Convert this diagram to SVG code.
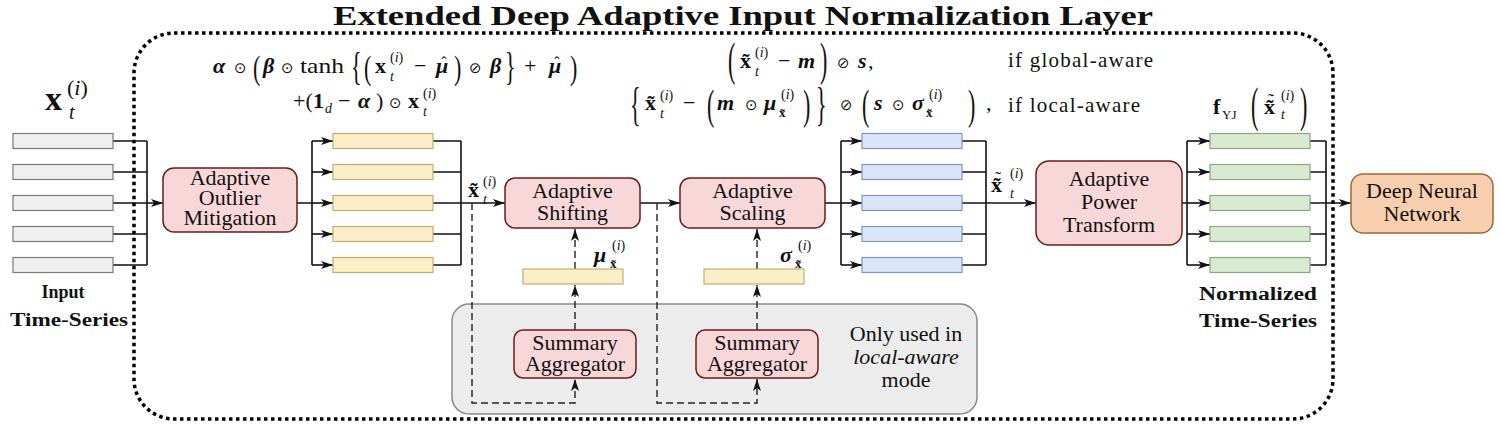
<svg xmlns="http://www.w3.org/2000/svg" width="1500" height="427" viewBox="0 0 1500 427">
<style>
.t{font-family:"Liberation Serif","DejaVu Serif",serif;fill:#111}
.lbl{font-size:22px;text-anchor:middle}
.b{font-weight:bold}
.bi{font-weight:bold;font-style:italic}
.it{font-style:italic}
.op{font-family:"DejaVu Sans",sans-serif;font-size:15px;fill:#111}
.ln{stroke:#111;stroke-width:1.6;fill:none}
.dash{stroke:#222;stroke-width:1.4;stroke-dasharray:7 4;fill:none}
.red{fill:#f8d7d8;stroke:#6e1a1a;stroke-width:1.5}
.gray{fill:#efefef;stroke:#7a7a7a;stroke-width:1.2}
.yel{fill:#fcefc7;stroke:#c2ad74;stroke-width:1.2}
.blue{fill:#dae6f8;stroke:#7f97c0;stroke-width:1.2}
.grn{fill:#d9ead3;stroke:#8aa77f;stroke-width:1.2}
</style>
<defs>
<marker id="arr" viewBox="0 0 12 8" refX="12" refY="4" markerWidth="12" markerHeight="8" markerUnits="userSpaceOnUse" orient="auto">
<path d="M0,0 L12,4 L0,8 L3,4 z" fill="#111"/>
</marker>
</defs>
<rect width="1500" height="427" fill="#fff"/>

<!-- title and frame -->
<text class="t b" x="743" y="25" font-size="28" text-anchor="middle" textLength="820" lengthAdjust="spacingAndGlyphs">Extended Deep Adaptive Input Normalization Layer</text>
<rect id="frame" x="134" y="33" width="1199" height="386" rx="40" fill="none" stroke="#000" stroke-width="3.5" stroke-dasharray="3.5 3.5"/>

<!-- gray local-aware region -->
<g id="local-region">
<rect x="452" y="304" width="525" height="110" rx="17" fill="#ececec" stroke="#8a8a8a" stroke-width="1.5"/>
<text class="t lbl" x="906" y="341">Only used in</text>
<text class="t lbl it" x="906" y="364">local-aware</text>
<text class="t lbl" x="906" y="387">mode</text>
</g>

<!-- connectors -->
<g id="connectors">
<path class="ln" d="M113,141 H147 M113,172 H147 M113,234 H147 M113,265 H147 M147,141 V265"/>
<path class="ln" d="M113,203 H163" marker-end="url(#arr)"/>
<path class="ln" d="M297,203 H312 M312,141 V265"/>
<path class="ln" d="M312,141 H333" marker-end="url(#arr)"/>
<path class="ln" d="M312,172 H333" marker-end="url(#arr)"/>
<path class="ln" d="M312,203 H333" marker-end="url(#arr)"/>
<path class="ln" d="M312,234 H333" marker-end="url(#arr)"/>
<path class="ln" d="M312,265 H333" marker-end="url(#arr)"/>
<path class="ln" d="M433,141 H461 M433,172 H461 M433,234 H461 M433,265 H461 M461,141 V265"/>
<path class="ln" d="M433,203 H505" marker-end="url(#arr)"/>
<path class="ln" d="M640,203 H680" marker-end="url(#arr)"/>
<path class="ln" d="M825,203 H841 M841,141 V265"/>
<path class="ln" d="M841,141 H862" marker-end="url(#arr)"/>
<path class="ln" d="M841,172 H862" marker-end="url(#arr)"/>
<path class="ln" d="M841,203 H862" marker-end="url(#arr)"/>
<path class="ln" d="M841,234 H862" marker-end="url(#arr)"/>
<path class="ln" d="M841,265 H862" marker-end="url(#arr)"/>
<path class="ln" d="M962,141 H986 M962,172 H986 M962,234 H986 M962,265 H986 M986,141 V265"/>
<path class="ln" d="M962,203 H1036" marker-end="url(#arr)"/>
<path class="ln" d="M1182,203 H1187 M1187,141 V265"/>
<path class="ln" d="M1187,141 H1210" marker-end="url(#arr)"/>
<path class="ln" d="M1187,172 H1210" marker-end="url(#arr)"/>
<path class="ln" d="M1187,203 H1210" marker-end="url(#arr)"/>
<path class="ln" d="M1187,234 H1210" marker-end="url(#arr)"/>
<path class="ln" d="M1187,265 H1210" marker-end="url(#arr)"/>
<path class="ln" d="M1310,141 H1326 M1310,172 H1326 M1310,234 H1326 M1310,265 H1326 M1326,141 V265"/>
<path class="ln" d="M1310,203 H1351" marker-end="url(#arr)"/>
<path class="dash" d="M472,203 V403 H575 V379" marker-end="url(#arr)"/>
<path class="dash" d="M657,203 V403 H757 V379" marker-end="url(#arr)"/>
<path class="dash" d="M575,330 V285" marker-end="url(#arr)"/>
<path class="dash" d="M575,269 V229" marker-end="url(#arr)"/>
<path class="dash" d="M757,330 V285" marker-end="url(#arr)"/>
<path class="dash" d="M757,269 V229" marker-end="url(#arr)"/>
</g>

<!-- series bars -->
<g id="input-series">
<rect class="gray" x="13" y="133.5" width="100" height="15"/>
<rect class="gray" x="13" y="164.5" width="100" height="15"/>
<rect class="gray" x="13" y="195.5" width="100" height="15"/>
<rect class="gray" x="13" y="226.5" width="100" height="15"/>
<rect class="gray" x="13" y="257.5" width="100" height="15"/>
<text class="t b" x="63" y="298" font-size="18" text-anchor="middle">Input</text>
<text class="t b" x="69" y="326" font-size="18" text-anchor="middle" textLength="118" lengthAdjust="spacingAndGlyphs">Time-Series</text>
<text class="t b" x="45" y="110" font-size="34">x</text>
<text class="t" x="67" y="95" font-size="22">(<tspan class="it">i</tspan>)</text>
<text class="t it" x="69" y="119" font-size="20">t</text>
</g>
<g id="mitigated-series">
<rect class="yel" x="333" y="133.5" width="100" height="15"/>
<rect class="yel" x="333" y="164.5" width="100" height="15"/>
<rect class="yel" x="333" y="195.5" width="100" height="15"/>
<rect class="yel" x="333" y="226.5" width="100" height="15"/>
<rect class="yel" x="333" y="257.5" width="100" height="15"/>
</g>
<g id="scaled-series">
<rect class="blue" x="862" y="133.5" width="100" height="15"/>
<rect class="blue" x="862" y="164.5" width="100" height="15"/>
<rect class="blue" x="862" y="195.5" width="100" height="15"/>
<rect class="blue" x="862" y="226.5" width="100" height="15"/>
<rect class="blue" x="862" y="257.5" width="100" height="15"/>
</g>
<g id="normalized-series">
<rect class="grn" x="1210" y="133.5" width="100" height="15"/>
<rect class="grn" x="1210" y="164.5" width="100" height="15"/>
<rect class="grn" x="1210" y="195.5" width="100" height="15"/>
<rect class="grn" x="1210" y="226.5" width="100" height="15"/>
<rect class="grn" x="1210" y="257.5" width="100" height="15"/>
<text class="t b" x="1258" y="300" font-size="18" text-anchor="middle" textLength="118" lengthAdjust="spacingAndGlyphs">Normalized</text>
<text class="t b" x="1258" y="327" font-size="18" text-anchor="middle" textLength="118" lengthAdjust="spacingAndGlyphs">Time-Series</text>
</g>

<!-- nodes -->
<g id="outlier">
<rect class="red" x="163" y="168" width="134" height="64" rx="11"/>
<text class="t lbl" x="230" y="185" font-size="21">Adaptive</text>
<text class="t lbl" x="230" y="205" font-size="21">Outlier</text>
<text class="t lbl" x="230" y="225" font-size="21">Mitigation</text>
</g>
<g id="shifting">
<rect class="red" x="505" y="178" width="135" height="50" rx="10"/>
<text class="t lbl" x="572.5" y="198">Adaptive</text>
<text class="t lbl" x="572.5" y="220">Shifting</text>
</g>
<g id="scaling">
<rect class="red" x="680" y="178" width="145" height="50" rx="10"/>
<text class="t lbl" x="752.5" y="198">Adaptive</text>
<text class="t lbl" x="752.5" y="220">Scaling</text>
</g>
<g id="power">
<rect class="red" x="1036" y="161" width="146" height="84" rx="13"/>
<text class="t lbl" x="1109" y="186">Adaptive</text>
<text class="t lbl" x="1109" y="209">Power</text>
<text class="t lbl" x="1109" y="232">Transform</text>
</g>
<g id="dnn">
<rect x="1351" y="174" width="142" height="59" rx="12" fill="#f7cfae" stroke="#9c6a34" stroke-width="1.5"/>
<text class="t lbl" x="1422" y="198">Deep Neural</text>
<text class="t lbl" x="1422" y="221">Network</text>
</g>
<g id="mu-bar">
<rect class="yel" x="523" y="269" width="100" height="15"/>
<text class="t bi" x="594" y="262" font-size="22">μ</text>
<text class="t b" x="610" y="268" font-size="13">x&#x303;</text>
<text class="t" x="612" y="250" font-size="14">(<tspan class="it">i</tspan>)</text>
</g>
<g id="sigma-bar">
<rect class="yel" x="704" y="269" width="100" height="15"/>
<text class="t bi" x="780" y="262" font-size="22">σ</text>
<text class="t b" x="795" y="268" font-size="13">x&#x303;</text>
<text class="t" x="798" y="250" font-size="14">(<tspan class="it">i</tspan>)</text>
</g>
<g id="agg1">
<rect class="red" x="514" y="330" width="122" height="48" rx="9"/>
<text class="t lbl" x="575" y="350">Summary</text>
<text class="t lbl" x="575" y="371">Aggregator</text>
</g>
<g id="agg2">
<rect class="red" x="696" y="330" width="122" height="48" rx="9"/>
<text class="t lbl" x="757" y="350">Summary</text>
<text class="t lbl" x="757" y="371">Aggregator</text>
</g>

<!-- edge labels -->
<g id="edge-labels">
<text class="t b" x="468" y="197" font-size="22">x&#x303;</text>
<text class="t" x="483" y="186" font-size="14">(<tspan class="it">i</tspan>)</text>
<text class="t it" x="483" y="204" font-size="14">t</text>

<text class="t b" x="991" y="192" font-size="22">x&#x303;</text>
<text class="t" x="998" y="185" font-size="18" text-anchor="middle">˜</text>
<text class="t" x="1010" y="178" font-size="14">(<tspan class="it">i</tspan>)</text>
<text class="t it" x="1010" y="198" font-size="14">t</text>
</g>

<!-- formula: outlier mitigation -->
<g id="formula-outlier">
<text class="t bi" x="213" y="73" font-size="22">α</text>
<text class="op" x="234" y="73">⊙</text>
<text class="t" font-size="22" transform="translate(253,78.5) scale(1,1.55)">(</text>
<text class="t bi" x="263" y="73" font-size="22">β</text>
<text class="op" x="281" y="73">⊙</text>
<text class="t" x="300" y="73" font-size="22" textLength="44" lengthAdjust="spacingAndGlyphs">tanh</text>
<text class="t" font-size="22" transform="translate(351,80) scale(1,1.8)">{</text>
<text class="t" font-size="22" transform="translate(364,78.5) scale(1,1.55)">(</text>
<text class="t b" x="375" y="73" font-size="22">x</text>
<text class="t" x="390" y="62" font-size="14">(<tspan class="it">i</tspan>)</text>
<text class="t it" x="390" y="81" font-size="14">t</text>
<text class="t" x="414" y="73" font-size="22">−</text>
<text class="t bi" x="436" y="73" font-size="22">μ</text>
<text class="t" x="444" y="68" font-size="16" text-anchor="middle">ˆ</text>
<text class="t" font-size="22" transform="translate(454,78.5) scale(1,1.55)">)</text>
<text class="op" x="469" y="73">⊘</text>
<text class="t bi" x="490" y="73" font-size="22">β</text>
<text class="t" font-size="22" transform="translate(505,80) scale(1,1.8)">}</text>
<text class="t" x="524" y="73" font-size="22">+</text>
<text class="t bi" x="549" y="73" font-size="22">μ</text>
<text class="t" x="557" y="68" font-size="16" text-anchor="middle">ˆ</text>
<text class="t" font-size="22" transform="translate(570,78.5) scale(1,1.55)">)</text>

<text class="t" x="293" y="108" font-size="22">+(</text>
<text class="t b" x="313" y="108" font-size="22">1</text>
<text class="t it" x="325" y="113" font-size="14">d</text>
<text class="t" x="338" y="108" font-size="22">−</text>
<text class="t bi" x="358" y="108" font-size="22">α</text>
<text class="t" x="376" y="108" font-size="22">)</text>
<text class="op" x="389" y="108">⊙</text>
<text class="t b" x="408" y="108" font-size="22">x</text>
<text class="t" x="423" y="98" font-size="14">(<tspan class="it">i</tspan>)</text>
<text class="t it" x="423" y="116" font-size="14">t</text>
</g>

<!-- formula: shifting/scaling -->
<g id="formula-scale">
<text class="t" font-size="22" transform="translate(728,74.6) scale(1,2.1)">(</text>
<text class="t b" x="740" y="68" font-size="22">x&#x303;</text>
<text class="t" x="755" y="57" font-size="14">(<tspan class="it">i</tspan>)</text>
<text class="t it" x="755" y="76" font-size="14">t</text>
<text class="t" x="778" y="68" font-size="22">−</text>
<text class="t bi" x="798" y="68" font-size="22">m</text>
<text class="t" font-size="22" transform="translate(820,74.6) scale(1,2.1)">)</text>
<text class="op" x="837" y="68">⊘</text>
<text class="t bi" x="858" y="68" font-size="22">s</text>
<text class="t" x="868" y="68" font-size="22">,</text>
<text class="t" x="1008" y="67" font-size="21" textLength="145">if global-aware</text>

<text class="t" font-size="22" transform="translate(630,119.6) scale(1,2.1)">{</text>
<text class="t b" x="645" y="110" font-size="22">x&#x303;</text>
<text class="t" x="660" y="100" font-size="14">(<tspan class="it">i</tspan>)</text>
<text class="t it" x="660" y="118" font-size="14">t</text>
<text class="t" x="683" y="110" font-size="22">−</text>
<text class="t" font-size="22" transform="translate(707,118.5) scale(1,1.9)">(</text>
<text class="t bi" x="717" y="110" font-size="22">m</text>
<text class="op" x="745" y="110">⊙</text>
<text class="t bi" x="764" y="110" font-size="22">μ</text>
<text class="t b" x="779" y="117" font-size="13">x&#x303;</text>
<text class="t" x="781" y="99" font-size="14">(<tspan class="it">i</tspan>)</text>
<text class="t" font-size="22" transform="translate(803,118.5) scale(1,1.9)">)</text>
<text class="t" font-size="22" transform="translate(816,119.6) scale(1,2.1)">}</text>
<text class="op" x="840" y="110">⊘</text>
<text class="t" font-size="22" transform="translate(862,118.5) scale(1,1.9)">(</text>
<text class="t bi" x="874" y="110" font-size="22">s</text>
<text class="op" x="892" y="110">⊙</text>
<text class="t bi" x="912" y="110" font-size="22">σ</text>
<text class="t b" x="926" y="117" font-size="13">x&#x303;</text>
<text class="t" x="929" y="99" font-size="14">(<tspan class="it">i</tspan>)</text>
<text class="t" font-size="22" transform="translate(968,118.5) scale(1,1.9)">)</text>
<text class="t" x="986" y="110" font-size="22">,</text>
<text class="t" x="1008" y="112" font-size="21" textLength="132">if local-aware</text>
</g>

<!-- formula: power transform -->
<g id="formula-power">
<text class="t b" x="1213" y="114" font-size="22">f</text>
<text class="t" x="1222" y="119" font-size="13">YJ</text>
<text class="t" font-size="22" transform="translate(1251,121) scale(1,2.2)">(</text>
<text class="t b" x="1264" y="114" font-size="22">x&#x303;</text>
<text class="t" x="1271" y="107" font-size="18" text-anchor="middle">˜</text>
<text class="t" x="1281" y="100" font-size="14">(<tspan class="it">i</tspan>)</text>
<text class="t it" x="1281" y="119" font-size="14">t</text>
<text class="t" font-size="22" transform="translate(1300,121) scale(1,2.2)">)</text>
</g>
</svg>
